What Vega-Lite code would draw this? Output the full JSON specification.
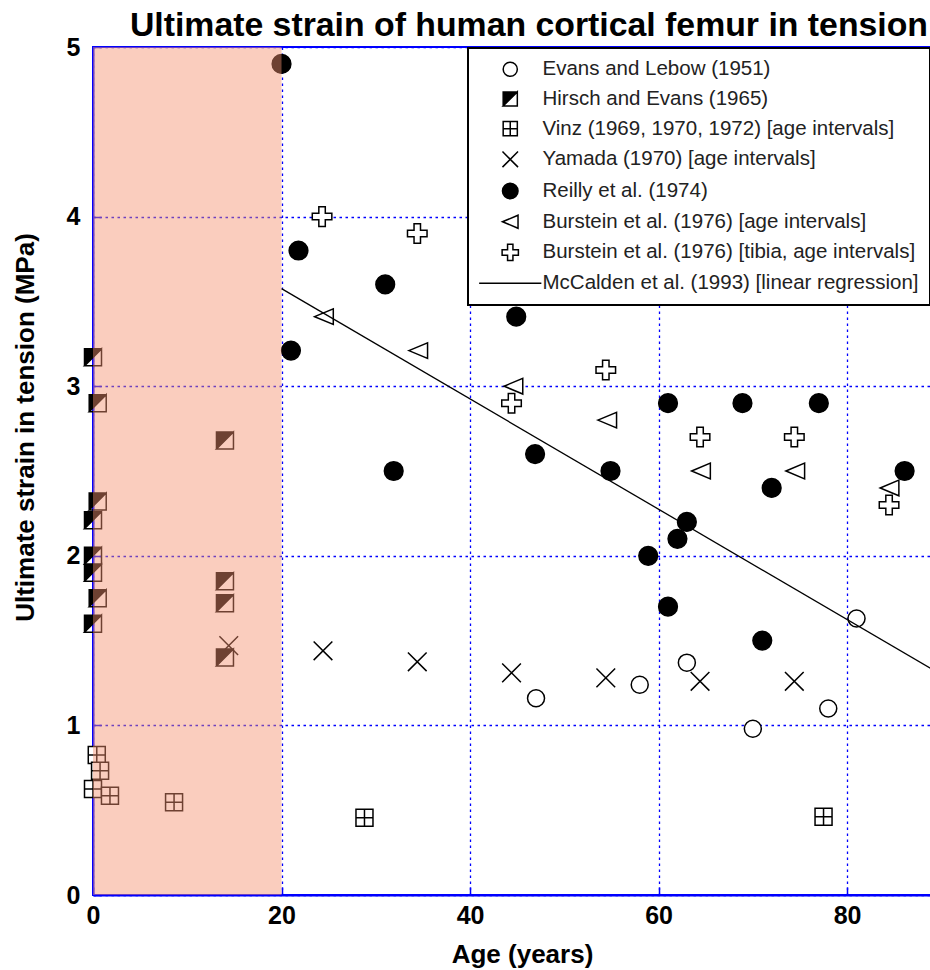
{
  "$schema": "https://vega.github.io/schema/vega-lite/v6.json",
  "width": 838,
  "height": 848,
  "autosize": {"type": "none"},
  "padding": {"left": 93, "top": 47, "right": 0, "bottom": 75},
  "background": "white",
  "title": {
    "text": "Ultimate strain of human cortical femur in tension",
    "anchor": "end",
    "fontSize": 33.8,
    "fontWeight": "bold",
    "font": "Liberation Sans",
    "color": "black",
    "baseline": "alphabetic",
    "offset": -35,
    "dx": -3
  },
  "config": {
    "view": {"stroke": "#0000ff", "strokeWidth": 2},
    "axis": {
      "domainColor": "#0000ff",
      "domainWidth": 2,
      "grid": true,
      "gridColor": "#0000ff",
      "gridDash": [2.5, 3.5],
      "gridWidth": 1.3,
      "gridOpacity": 1,
      "tickColor": "#0000ff",
      "tickSize": -8,
      "tickWidth": 1.5,
      "labelFont": "Liberation Sans",
      "labelFontSize": 25,
      "labelFontWeight": "bold",
      "labelColor": "black",
      "labelFlush": false,
      "titleFont": "Liberation Sans",
      "titleFontSize": 26,
      "titleFontWeight": "bold",
      "titleColor": "black"
    },
    "legend": {
      "orient": "top-right",
      "offset": 1,
      "labelFont": "Liberation Sans",
      "labelFontSize": 20.5,
      "labelColor": "#222222",
      "labelLimit": 600,
      "fillColor": "white",
      "strokeColor": "black",
      "strokeWidth": 2,
      "padding": 11,
      "symbolSize": 200,
      "symbolOffset": 21,
      "labelOffset": 22,
      "rowPadding": 8.7,
      "symbolStrokeWidth": 1.5,
      "symbolStrokeColor": "black"
    }
  },
  "datasets": {
    "pts": [
      {"series": "Evans and Lebow (1951)", "age": 47, "strain": 1.16},
      {"series": "Evans and Lebow (1951)", "age": 58, "strain": 1.24},
      {"series": "Evans and Lebow (1951)", "age": 63, "strain": 1.37},
      {"series": "Evans and Lebow (1951)", "age": 70, "strain": 0.98},
      {"series": "Evans and Lebow (1951)", "age": 78, "strain": 1.10},
      {"series": "Evans and Lebow (1951)", "age": 81, "strain": 1.63},
      {"series": "Hirsch and Evans (1965)", "age": 0, "strain": 3.17},
      {"series": "Hirsch and Evans (1965)", "age": 0.5, "strain": 2.90},
      {"series": "Hirsch and Evans (1965)", "age": 0.5, "strain": 2.32},
      {"series": "Hirsch and Evans (1965)", "age": 0, "strain": 2.21},
      {"series": "Hirsch and Evans (1965)", "age": 0, "strain": 2.00},
      {"series": "Hirsch and Evans (1965)", "age": 0, "strain": 1.90},
      {"series": "Hirsch and Evans (1965)", "age": 0.5, "strain": 1.75},
      {"series": "Hirsch and Evans (1965)", "age": 0, "strain": 1.60},
      {"series": "Hirsch and Evans (1965)", "age": 14, "strain": 2.68},
      {"series": "Hirsch and Evans (1965)", "age": 14, "strain": 1.85},
      {"series": "Hirsch and Evans (1965)", "age": 14, "strain": 1.72},
      {"series": "Hirsch and Evans (1965)", "age": 14, "strain": 1.40},
      {"series": "Vinz (1969, 1970, 1972) [age intervals]", "age": 0.4, "strain": 0.825},
      {"series": "Vinz (1969, 1970, 1972) [age intervals]", "age": 0.75, "strain": 0.733},
      {"series": "Vinz (1969, 1970, 1972) [age intervals]", "age": 0, "strain": 0.625},
      {"series": "Vinz (1969, 1970, 1972) [age intervals]", "age": 1.8, "strain": 0.585},
      {"series": "Vinz (1969, 1970, 1972) [age intervals]", "age": 8.6, "strain": 0.547},
      {"series": "Vinz (1969, 1970, 1972) [age intervals]", "age": 28.8, "strain": 0.456},
      {"series": "Vinz (1969, 1970, 1972) [age intervals]", "age": 77.5, "strain": 0.462},
      {"series": "Yamada (1970) [age intervals]", "age": 14.4, "strain": 1.47},
      {"series": "Yamada (1970) [age intervals]", "age": 24.4, "strain": 1.44},
      {"series": "Yamada (1970) [age intervals]", "age": 34.4, "strain": 1.375},
      {"series": "Yamada (1970) [age intervals]", "age": 44.4, "strain": 1.31},
      {"series": "Yamada (1970) [age intervals]", "age": 54.4, "strain": 1.28},
      {"series": "Yamada (1970) [age intervals]", "age": 64.4, "strain": 1.26},
      {"series": "Yamada (1970) [age intervals]", "age": 74.4, "strain": 1.26},
      {"series": "Reilly et al. (1974)", "age": 20, "strain": 4.90},
      {"series": "Reilly et al. (1974)", "age": 21.8, "strain": 3.80},
      {"series": "Reilly et al. (1974)", "age": 21, "strain": 3.21},
      {"series": "Reilly et al. (1974)", "age": 31, "strain": 3.60},
      {"series": "Reilly et al. (1974)", "age": 31.9, "strain": 2.50},
      {"series": "Reilly et al. (1974)", "age": 44.9, "strain": 3.41},
      {"series": "Reilly et al. (1974)", "age": 46.9, "strain": 2.60},
      {"series": "Reilly et al. (1974)", "age": 54.9, "strain": 2.50},
      {"series": "Reilly et al. (1974)", "age": 61, "strain": 2.90},
      {"series": "Reilly et al. (1974)", "age": 68.9, "strain": 2.90},
      {"series": "Reilly et al. (1974)", "age": 77, "strain": 2.90},
      {"series": "Reilly et al. (1974)", "age": 86.1, "strain": 2.50},
      {"series": "Reilly et al. (1974)", "age": 72, "strain": 2.40},
      {"series": "Reilly et al. (1974)", "age": 63, "strain": 2.20},
      {"series": "Reilly et al. (1974)", "age": 62, "strain": 2.10},
      {"series": "Reilly et al. (1974)", "age": 58.9, "strain": 2.00},
      {"series": "Reilly et al. (1974)", "age": 61, "strain": 1.70},
      {"series": "Reilly et al. (1974)", "age": 71, "strain": 1.50},
      {"series": "Burstein et al. (1976) [age intervals]", "age": 24.5, "strain": 3.41},
      {"series": "Burstein et al. (1976) [age intervals]", "age": 34.5, "strain": 3.21},
      {"series": "Burstein et al. (1976) [age intervals]", "age": 44.6, "strain": 3.00},
      {"series": "Burstein et al. (1976) [age intervals]", "age": 54.55, "strain": 2.80},
      {"series": "Burstein et al. (1976) [age intervals]", "age": 64.5, "strain": 2.50},
      {"series": "Burstein et al. (1976) [age intervals]", "age": 74.5, "strain": 2.50},
      {"series": "Burstein et al. (1976) [age intervals]", "age": 84.5, "strain": 2.40},
      {"series": "Burstein et al. (1976) [tibia, age intervals]", "age": 24.3, "strain": 4.00},
      {"series": "Burstein et al. (1976) [tibia, age intervals]", "age": 34.4, "strain": 3.90},
      {"series": "Burstein et al. (1976) [tibia, age intervals]", "age": 44.4, "strain": 2.90},
      {"series": "Burstein et al. (1976) [tibia, age intervals]", "age": 54.4, "strain": 3.095},
      {"series": "Burstein et al. (1976) [tibia, age intervals]", "age": 64.4, "strain": 2.70},
      {"series": "Burstein et al. (1976) [tibia, age intervals]", "age": 74.4, "strain": 2.70},
      {"series": "Burstein et al. (1976) [tibia, age intervals]", "age": 84.45, "strain": 2.30}
    ],
    "reg": [
      {"series": "McCalden et al. (1993) [linear regression]", "age": 20, "strain": 3.575},
      {"series": "McCalden et al. (1993) [linear regression]", "age": 88.9, "strain": 1.335}
    ],
    "shade": [{"x0": 0, "x1": 20, "y0": 0, "y1": 5}]
  },
  "layer": [
    {
      "data": {"name": "pts"},
      "mark": {"type": "point", "size": 289, "strokeWidth": 1.5, "opacity": 1, "filled": false},
      "encoding": {
        "x": {
          "field": "age", "type": "quantitative",
          "scale": {"domain": [0, 88.9], "nice": false, "zero": false},
          "axis": {"values": [0, 20, 40, 60, 80], "format": "d", "labelPadding": 16, "title": "Age (years)", "titleX": 429, "titleY": 67, "titleBaseline": "alphabetic"}
        },
        "y": {
          "field": "strain", "type": "quantitative",
          "scale": {"domain": [0, 5], "nice": false},
          "axis": {"values": [0, 1, 2, 3, 4, 5], "format": "d", "labelPadding": 21, "title": "Ultimate strain in tension (MPa)", "titleX": -60, "titleY": 380, "titleBaseline": "alphabetic"}
        },
        "shape": {
          "field": "series", "type": "nominal",
          "scale": {
            "domain": ["Evans and Lebow (1951)", "Hirsch and Evans (1965)", "Vinz (1969, 1970, 1972) [age intervals]", "Yamada (1970) [age intervals]", "Reilly et al. (1974)", "Burstein et al. (1976) [age intervals]", "Burstein et al. (1976) [tibia, age intervals]", "McCalden et al. (1993) [linear regression]"],
            "range": [
              "circle",
              "M-1,-1L1,-1L1,1L-1,1Z M1,-1L-1,1L1,1Z",
              "M-1,-1L1,-1L1,1L-1,1Z M0,-1L0,1 M-1,0L1,0",
              "M-1.1,-1.1L1.1,1.1 M-1.1,1.1L1.1,-1.1",
              "M1.1,0A1.1,1.1 0 1,1 -1.1,0A1.1,1.1 0 1,1 1.1,0Z",
              "M-1.1,0L1.1,-0.92L1.1,0.92Z",
              "M-0.38,-1.15L0.38,-1.15L0.38,-0.38L1.15,-0.38L1.15,0.38L0.38,0.38L0.38,1.15L-0.38,1.15L-0.38,0.38L-1.15,0.38L-1.15,-0.38L-0.38,-0.38Z",
              "M-4.4,0L4.4,0"
            ]
          },
          "legend": {"title": null}
        },
        "fill": {
          "field": "series", "type": "nominal",
          "scale": {
            "domain": ["Evans and Lebow (1951)", "Hirsch and Evans (1965)", "Vinz (1969, 1970, 1972) [age intervals]", "Yamada (1970) [age intervals]", "Reilly et al. (1974)", "Burstein et al. (1976) [age intervals]", "Burstein et al. (1976) [tibia, age intervals]", "McCalden et al. (1993) [linear regression]"],
            "range": ["white", "black", "white", "transparent", "black", "white", "white", "transparent"]
          },
          "legend": {"title": null}
        },
        "stroke": {
          "field": "series", "type": "nominal",
          "scale": {
            "domain": ["Evans and Lebow (1951)", "Hirsch and Evans (1965)", "Vinz (1969, 1970, 1972) [age intervals]", "Yamada (1970) [age intervals]", "Reilly et al. (1974)", "Burstein et al. (1976) [age intervals]", "Burstein et al. (1976) [tibia, age intervals]", "McCalden et al. (1993) [linear regression]"],
            "range": ["black", "black", "black", "black", "black", "black", "black", "black"]
          },
          "legend": {"title": null}
        }
      }
    },
    {
      "data": {"name": "reg"},
      "mark": {"type": "line", "color": "black", "strokeWidth": 1.3, "clip": true},
      "encoding": {
        "x": {"field": "age", "type": "quantitative"},
        "y": {"field": "strain", "type": "quantitative"}
      }
    },
    {
      "data": {"name": "shade"},
      "mark": {"type": "rect", "fill": "#f4906f", "opacity": 0.45},
      "encoding": {
        "x": {"field": "x0", "type": "quantitative"},
        "x2": {"field": "x1"},
        "y": {"field": "y0", "type": "quantitative"},
        "y2": {"field": "y1"}
      }
    }
  ]
}
